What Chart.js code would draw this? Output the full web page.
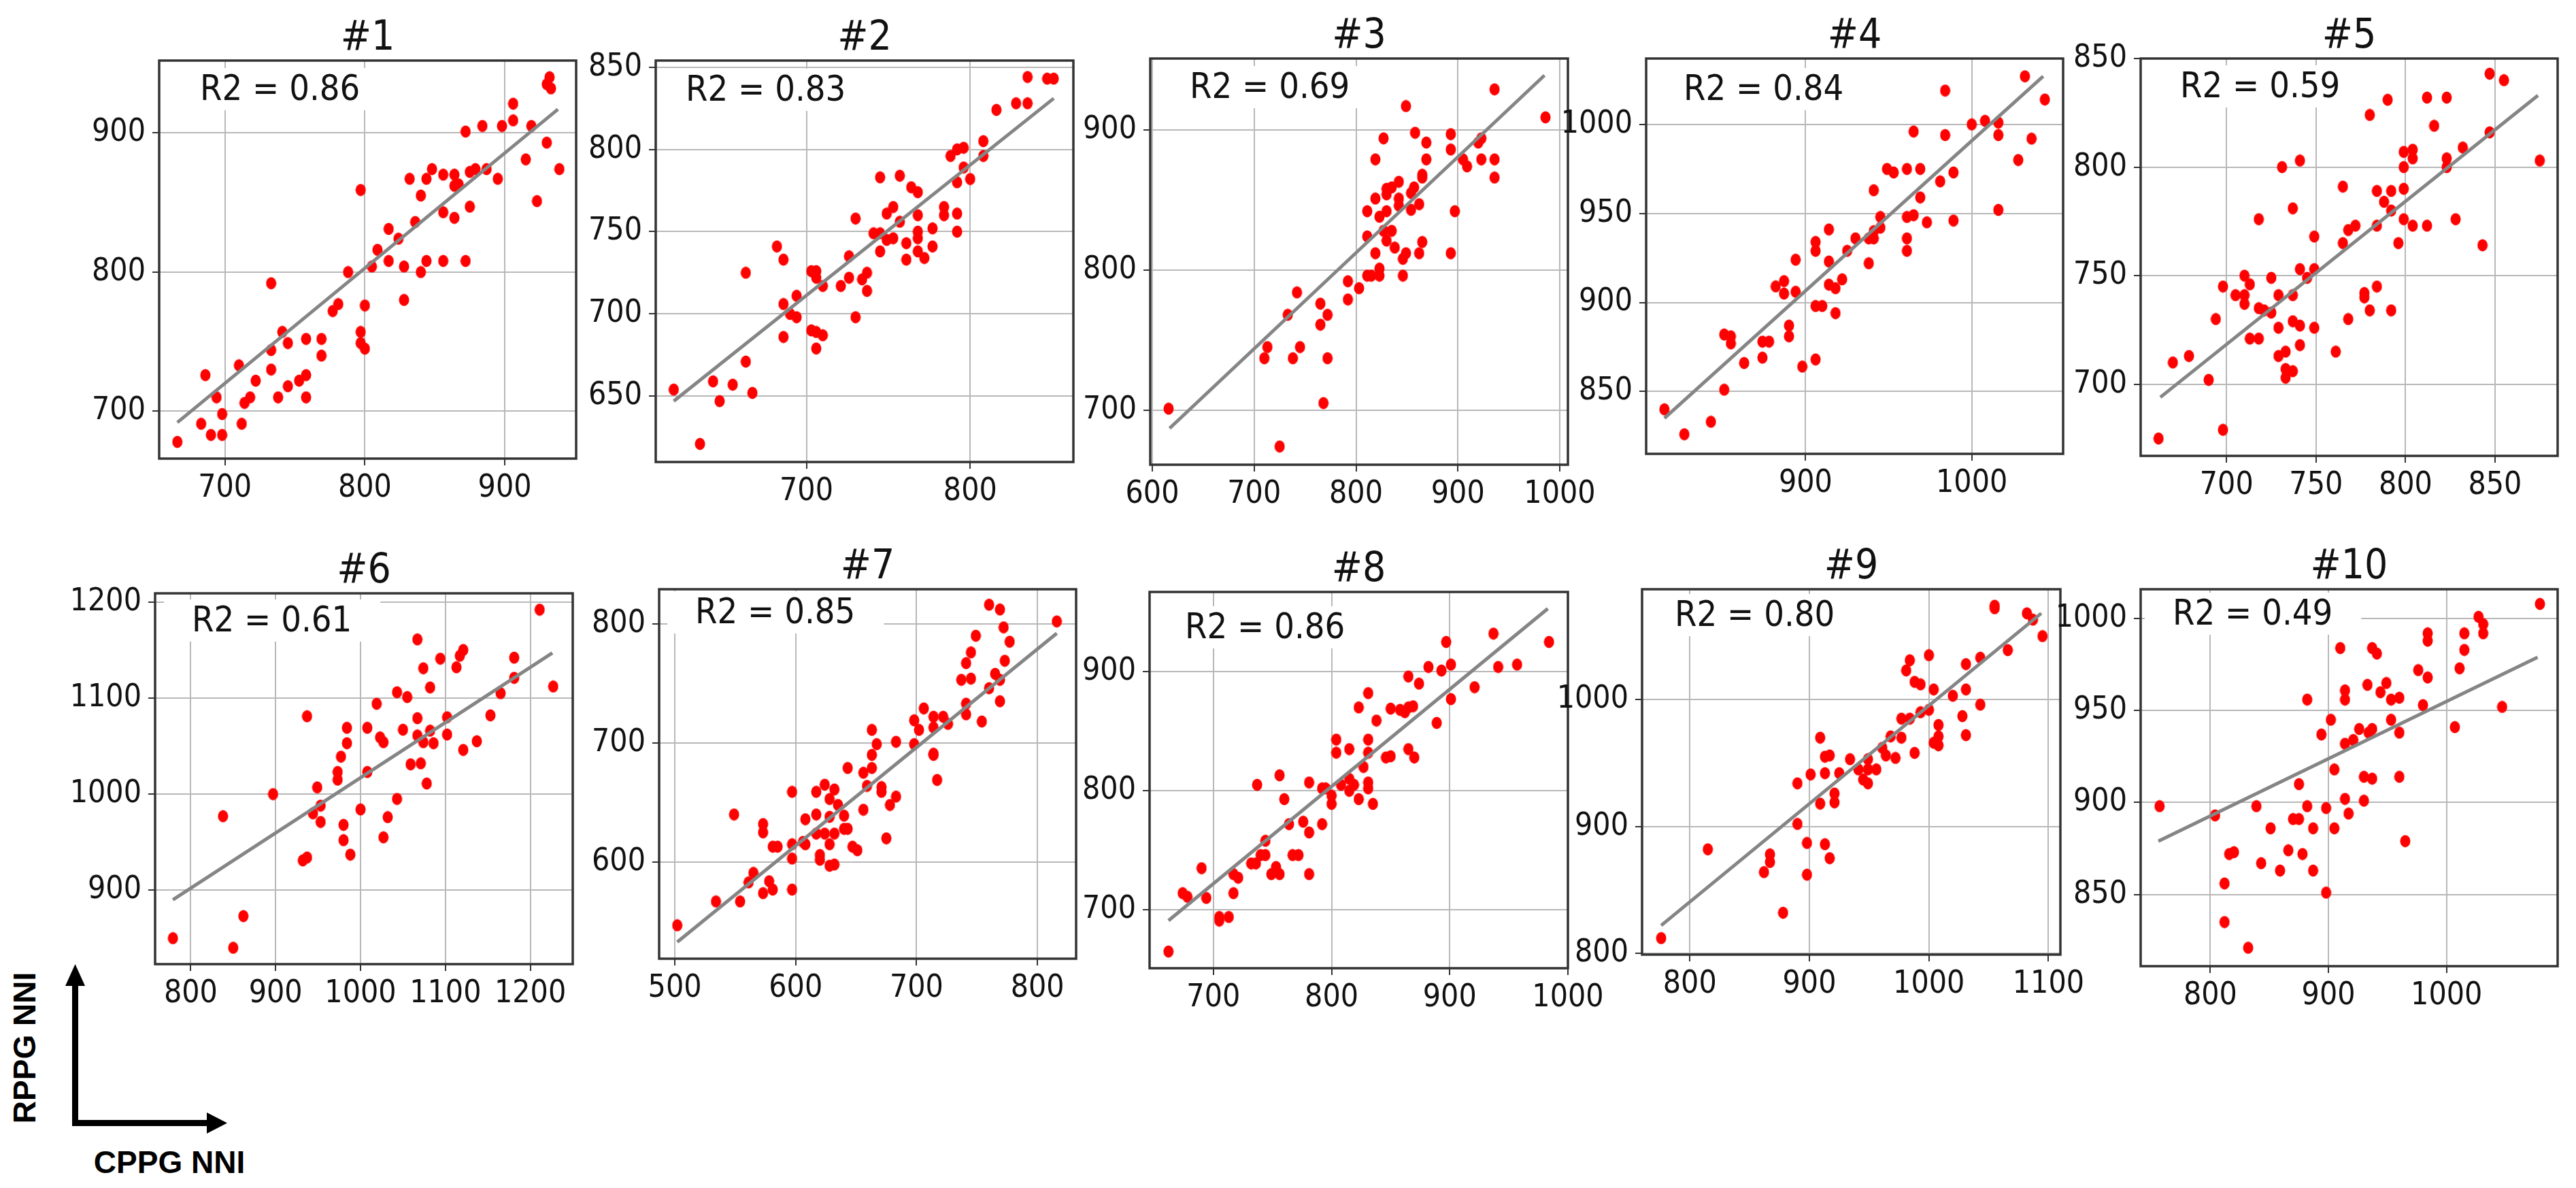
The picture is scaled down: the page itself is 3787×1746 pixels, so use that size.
<!DOCTYPE html>
<html>
<head>
<meta charset="utf-8">
<script src="https://cdn.jsdelivr.net/npm/chart.js@4.4.0/dist/chart.umd.min.js"></script>
<style>
body { margin: 0; background: #fff; width: 3787px; height: 1746px; position: relative; overflow: hidden; }
.pane { position: absolute; }
</style>
</head>
<body>

<svg width="3787" height="1746" style="position:absolute;left:0;top:0">
  <rect x="106" y="1445" width="9" height="210" fill="#000"/>
  <polygon points="96,1449 110.5,1417 125,1449" fill="#000"/>
  <rect x="106" y="1646" width="200" height="9" fill="#000"/>
  <polygon points="304,1635 334,1650.5 304,1666" fill="#000"/>
  <text x="0" y="0" transform="translate(52,1540) rotate(-90)" text-anchor="middle"
        font-family="Liberation Sans, Arial, sans-serif" font-weight="bold" font-size="46">RPPG NNI</text>
  <text x="249" y="1724" text-anchor="middle"
        font-family="Liberation Sans, Arial, sans-serif" font-weight="bold" font-size="46">CPPG NNI</text>
</svg>

<script>
//---------------------------- data ---------------------------------------------
// cppgN = CPPG NNI (x), rppgN = RPPG NNI (y) for panel #N

var cppg1 = [666,683,690,698,698,694,686,710,712,714,718,722,733,733,733,738,741,745,745,753,758,758,758,769,769,777,781,797,797,800,800,797,788,805,809,817,817,824,828,828,832,836,840,840,844,844,848,856,856,856,864,864,864,867,872,872,875,875,879,884,887,895,898,906,906,915,919,923,930,930,932,933,939];
var rppg1 = [678,691,683,683,698,710,726,733,691,706,710,722,730,744,792,710,757,718,749,722,726,710,752,752,740,772,777,757,749,745,776,859,800,804,816,831,808,824,804,780,867,836,855,800,808,867,874,870,843,808,870,862,839,863,901,808,872,847,874,905,874,867,905,921,909,881,905,851,893,935,940,932,874];

var cppg2 = [619,635,643,647,655,663,663,667,682,686,686,686,690,694,694,703,703,706,706,706,706,710,710,721,726,726,730,730,734,737,737,741,745,745,745,749,749,753,753,757,757,761,761,764,768,768,768,768,768,772,777,777,784,784,788,792,792,792,792,796,796,800,808,808,816,828,835,835,847,851];
var rppg2 = [654,621,659,647,657,671,725,652,741,733,706,686,700,711,698,726,690,726,722,679,689,717,687,717,722,735,758,698,721,725,714,749,783,738,749,761,745,765,746,756,784,743,733,777,774,760,750,746,738,734,752,741,765,760,796,800,780,761,750,801,789,782,805,796,824,828,828,844,843,843];

var cppg3 = [616,725,710,713,733,738,742,745,765,765,768,772,772,792,792,803,811,811,811,815,819,819,819,823,823,823,827,827,830,830,830,830,835,835,838,842,842,842,846,846,849,849,854,854,857,858,862,862,865,865,865,869,869,893,893,893,897,905,909,920,923,923,936,936,936,986];
var rppg3 = [701,674,737,745,768,737,784,745,776,761,705,768,737,792,779,787,842,824,796,796,879,851,812,838,796,801,894,828,858,842,821,854,859,828,816,863,851,846,796,808,917,812,855,843,859,898,847,812,868,866,820,891,879,897,886,812,842,879,874,891,894,879,929,879,866,909];

var cppg4 = [815,827,843,851,851,855,855,863,874,874,878,882,887,887,890,890,894,894,898,906,906,906,906,910,914,914,914,918,918,922,925,930,938,938,941,941,941,945,945,949,953,961,961,961,961,965,965,969,969,973,981,984,984,989,989,1000,1008,1016,1016,1016,1028,1032,1036,1044];
var rppg4 = [840,826,833,851,882,881,877,866,869,878,878,909,912,905,881,887,924,906,864,934,929,898,868,898,941,923,910,908,894,913,929,936,922,936,940,936,963,942,948,975,973,975,948,936,929,996,949,975,959,945,968,1019,994,973,946,1000,1002,1001,994,952,980,1027,992,1014];

var cppg5 = [662,670,679,690,694,698,698,705,710,710,710,713,713,718,718,718,721,725,725,729,729,729,731,733,733,733,737,737,737,737,741,741,741,741,745,749,749,749,761,765,765,768,768,772,777,777,780,780,784,784,784,788,790,792,792,792,796,799,799,799,799,804,804,804,812,812,816,823,823,823,828,832,843,847,847,855,875];
var rppg5 = [675,710,713,702,730,745,679,741,750,741,737,746,721,735,721,776,734,749,733,741,726,713,800,715,707,703,741,729,706,781,803,753,727,718,749,768,753,726,715,791,765,771,730,773,742,740,824,734,789,773,745,784,831,789,780,734,765,807,800,790,776,808,804,773,832,773,819,832,804,800,776,809,764,843,816,840,803];

var cppg6 = [779,850,862,838,897,932,937,937,944,949,953,953,973,973,977,980,980,984,984,988,1000,1008,1008,1019,1023,1027,1027,1032,1043,1043,1050,1055,1059,1067,1067,1067,1071,1074,1074,1078,1082,1082,1086,1102,1102,1113,1117,1121,1121,1094,1137,1153,1165,1181,1181,1211,1227];
var rppg6 = [850,840,873,977,1000,931,934,1081,980,1007,988,971,1015,1023,1039,968,952,1069,1053,937,984,1069,1023,1094,1059,1054,955,976,1106,995,1067,1101,1031,1161,1079,1061,1032,1131,1054,1011,1111,1066,1053,1080,1062,1132,1144,1150,1046,1141,1055,1082,1105,1142,1121,1192,1112];

var cppg7 = [502,534,554,549,561,565,573,573,573,578,581,581,585,597,597,597,597,606,608,608,617,617,617,620,620,624,624,628,628,628,628,632,632,632,635,640,640,643,643,647,651,656,656,659,663,663,663,667,671,671,675,678,683,683,698,698,702,706,714,714,714,714,717,722,726,737,741,741,741,745,745,749,754,760,760,765,769,769,769,772,773,777,816];
var rppg7 = [547,567,567,640,583,591,574,632,625,584,577,613,613,577,603,615,659,617,615,636,659,640,624,606,602,624,665,597,615,638,653,598,624,661,648,639,628,679,628,613,610,675,644,664,711,690,679,699,663,659,620,648,701,655,719,699,711,729,722,713,691,690,669,722,716,753,724,733,767,754,776,790,718,746,816,758,735,753,812,797,769,785,802];

var cppg8 = [662,674,678,690,694,705,705,713,717,717,721,732,736,737,740,744,744,749,753,756,756,760,764,767,772,776,781,781,781,792,792,795,800,800,804,804,808,815,815,815,819,823,823,827,831,831,831,831,831,835,838,846,850,850,858,862,865,865,865,869,870,874,882,889,893,897,901,901,921,937,941,957,984];
var rppg8 = [665,714,711,735,710,694,691,694,714,730,727,739,739,805,746,746,758,730,736,730,813,793,772,746,746,774,765,730,807,802,772,802,796,789,843,832,805,835,810,800,805,870,793,820,882,843,832,807,802,789,859,828,829,869,868,866,896,870,835,871,828,890,904,857,901,925,906,877,887,932,904,906,925];

var cppg9 = [776,815,862,867,867,878,890,890,898,898,901,909,909,913,913,913,917,917,921,921,925,934,941,945,949,949,949,956,961,964,968,972,977,977,981,984,984,988,988,993,993,1000,1000,1004,1004,1008,1008,1008,1020,1028,1031,1031,1031,1043,1043,1055,1055,1066,1082,1087,1095];
var rppg9 = [812,882,864,878,872,832,934,902,887,862,941,970,918,955,942,886,956,875,926,919,942,953,945,937,953,945,934,945,962,956,971,954,970,985,1023,1031,985,1014,958,1012,990,1035,992,1008,966,980,971,964,1003,987,1028,1008,972,1033,996,1074,1072,1039,1068,1063,1050];

var cppg10 = [757,804,812,812,816,820,832,839,843,851,859,866,870,875,875,878,882,882,887,887,894,898,898,902,905,905,910,914,914,914,914,917,921,926,930,930,933,934,937,937,937,941,944,949,953,953,960,960,960,965,976,980,984,984,984,1007,1011,1015,1015,1027,1031,1031,1047,1079];
var rppg10 = [898,893,856,835,872,873,821,898,867,886,863,874,891,891,910,872,898,956,886,863,937,851,897,945,886,918,984,961,956,932,902,894,934,940,914,901,964,938,940,913,984,981,960,965,956,945,957,938,914,879,972,953,992,988,968,941,973,992,983,1001,997,992,952,1008];

// fitted line ends: [x start, x end], [y start, y end]
var fitX = [[666,938],[619,851],[617,985],[815,1043],[663,874],[779,1226],[502,816],[662,983],[776,1094],[756,1077]];
var fitY = [[692,917],[647,831],[687,939],[835,1027],[694,833],[890,1147],[533,792],[691,953],[822,1068],[879,979]];

var titles = ["#1","#2","#3","#4","#5","#6","#7","#8","#9","#10"];
var r2Text = ["R2 = 0.86","R2 = 0.83","R2 = 0.69","R2 = 0.84","R2 = 0.59","R2 = 0.61","R2 = 0.85","R2 = 0.86","R2 = 0.80","R2 = 0.49"];

// axis ranges and tick labels
var xRange = [[653,951],[608,863],[598,1008],[804,1055],[652,885],[758,1250],[487,832],[646,1000],[760,1110],[741,1094]];
var yRange = [[666,952],[610,854],[661,951],[815,1037],[667,850],[823,1209],[519,829],[651,967],[799,1087],[811,1016]];
var xTicks = [[700,800,900],[700,800],[600,700,800,900,1000],[900,1000],[700,750,800,850],[800,900,1000,1100,1200],[500,600,700,800],[700,800,900,1000],[800,900,1000,1100],[800,900,1000]];
var yTicks = [[700,800,900],[650,700,750,800,850],[700,800,900],[850,900,950,1000],[700,750,800,850],[900,1000,1100,1200],[600,700,800],[700,800,900],[800,900,1000],[850,900,950,1000]];

var cppg = [cppg1,cppg2,cppg3,cppg4,cppg5,cppg6,cppg7,cppg8,cppg9,cppg10];
var rppg = [rppg1,rppg2,rppg3,rppg4,rppg5,rppg6,rppg7,rppg8,rppg9,rppg10];

//---------------------------- layout -------------------------------------------
// plot box of every panel on the page: left, top, right, bottom
var boxes = [[234,89,847,674],[964,89,1578,679],[1691,86,2305,683],[2420,86,3033,667],[3147,86,3760,670],
             [228,872,842,1417],[969,866,1582,1409],[1690,870,2305,1423],[2414,866,3029,1403],[3147,866,3760,1420]];
// where the R2 note sits inside the box (offset from left, offset from top)
var r2Pos = [[60,42],[44,43],[58,42],[55,45],[58,41],[54,40],[53,34],[52,52],[48,38],[47,36]];

var PAD_L = 130, PAD_T = 86, PAD_R = 60, PAD_B = 80;
var FONT = '"Liberation Sans Narrow", "DejaVu Sans Condensed", "Liberation Sans", sans-serif';

// slightly tall red dot, like the stretched markers of the original
var dot = document.createElement('canvas');
dot.width = 16; dot.height = 19;
(function() {
  var c = dot.getContext('2d');
  c.fillStyle = '#ff0000';
  c.beginPath();
  c.ellipse(8, 9.5, 7.5, 9, 0, 0, Math.PI * 2);
  c.fill();
})();

// frame, title and R2 note
var panelDeco = {
  id: 'panelDeco',
  beforeDatasetsDraw: function(chart, args, opts) {
    var a = chart.chartArea, ctx = chart.ctx;
    ctx.save();
    ctx.font = '52px ' + FONT;
    var w = ctx.measureText(opts.r2).width;
    var tx = a.left + opts.dx, ty = a.top + opts.dy;
    var bx = Math.max(a.left + 2, tx - 41);
    ctx.fillStyle = '#ffffff';
    ctx.fillRect(bx, ty - 31, tx + w + 42 - bx, 62);
    ctx.fillStyle = '#111';
    ctx.textBaseline = 'middle';
    ctx.textAlign = 'left';
    ctx.fillText(opts.r2, tx, ty + 2);
    ctx.restore();
  },
  afterDraw: function(chart, args, opts) {
    var a = chart.chartArea, ctx = chart.ctx;
    ctx.save();
    ctx.strokeStyle = '#333';
    ctx.lineWidth = 3.5;
    ctx.strokeRect(a.left, a.top, a.right - a.left, a.bottom - a.top);
    ctx.fillStyle = '#111';
    ctx.font = '60px ' + FONT;
    ctx.textAlign = 'center';
    ctx.textBaseline = 'alphabetic';
    ctx.fillText(opts.title, (a.left + a.right) / 2, a.top - 16);
    ctx.restore();
  }
};

function fixWidth(w) {
  return function(scale) {
    scale.width = w;
    scale.paddingLeft = scale.paddingRight = scale.paddingTop = scale.paddingBottom = 0;
  };
}
function fixHeight(h) {
  return function(scale) {
    scale.height = h;
    scale.paddingLeft = scale.paddingRight = scale.paddingTop = scale.paddingBottom = 0;
  };
}
function setTicks(list) {
  return function(scale) {
    scale.ticks = list.map(function(v) { return { value: v }; });
  };
}

for (var i = 0; i < 10; i++) {
  var b = boxes[i];
  var W = (b[2] - b[0]) + PAD_L + PAD_R;
  var H = (b[3] - b[1]) + PAD_T + PAD_B;

  var div = document.createElement('div');
  div.className = 'pane';
  div.style.left = (b[0] - PAD_L) + 'px';
  div.style.top = (b[1] - PAD_T) + 'px';
  div.style.width = W + 'px';
  div.style.height = H + 'px';
  var cv = document.createElement('canvas');
  cv.width = W;
  cv.height = H;
  cv.style.width = W + 'px';
  cv.style.height = H + 'px';
  div.appendChild(cv);
  document.body.appendChild(div);

  var pts = cppg[i].map(function(x, k) { return { x: x, y: this[k] }; }, rppg[i]);
  var fit = [{ x: fitX[i][0], y: fitY[i][0] }, { x: fitX[i][1], y: fitY[i][1] }];

  var axisCommon = {
    type: 'linear',
    border: { display: false },
    grid: { color: '#b8b8b8', lineWidth: 2, drawTicks: true, tickLength: 10, tickColor: '#333', tickWidth: 2 },
    ticks: { color: '#111', font: { family: FONT, size: 46 }, maxRotation: 0, autoSkip: false,
             callback: function(v) { return String(v); } }
  };

  new Chart(cv.getContext('2d'), {
    type: 'scatter',
    data: {
      datasets: [
        { type: 'line', data: fit, borderColor: '#858585', borderWidth: 5, pointRadius: 0, fill: false, order: 0 },
        { type: 'scatter', data: pts, pointStyle: dot, pointRadius: 8, pointHoverRadius: 8, order: 1 }
      ]
    },
    options: {
      responsive: false,
      animation: false,
      devicePixelRatio: 1,
      layout: { padding: { top: PAD_T, right: PAD_R, left: 0, bottom: 0 } },
      plugins: {
        legend: { display: false },
        tooltip: { enabled: false },
        panelDeco: { title: titles[i], r2: r2Text[i], dx: r2Pos[i][0], dy: r2Pos[i][1] }
      },
      scales: {
        x: Object.assign({}, axisCommon, {
          min: xRange[i][0], max: xRange[i][1],
          ticks: Object.assign({}, axisCommon.ticks, { padding: 6 }),
          afterBuildTicks: setTicks(xTicks[i]),
          afterFit: fixHeight(PAD_B)
        }),
        y: Object.assign({}, axisCommon, {
          min: yRange[i][0], max: yRange[i][1],
          ticks: Object.assign({}, axisCommon.ticks, { padding: 10 }),
          afterBuildTicks: setTicks(yTicks[i]),
          afterFit: fixWidth(PAD_L)
        })
      }
    },
    plugins: [panelDeco]
  });
}
</script>
</body>
</html>
